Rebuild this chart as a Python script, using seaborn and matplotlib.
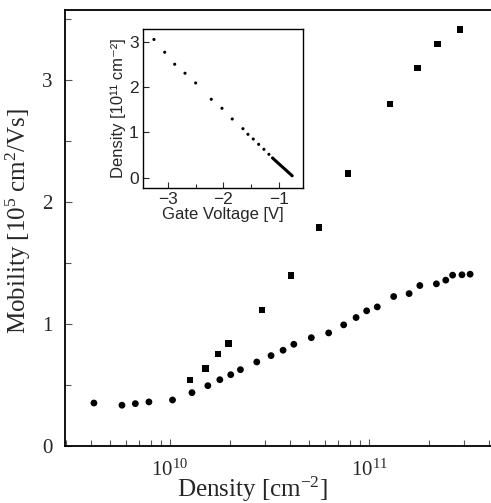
import numpy as np
import pandas as pd
import seaborn as sns
import matplotlib.pyplot as plt
from matplotlib.ticker import FixedLocator, NullFormatter, MultipleLocator

sns.set_style('ticks')
plt.rcParams['mathtext.fontset'] = 'custom'
plt.rcParams['mathtext.rm'] = 'Liberation Serif'
plt.rcParams['mathtext.it'] = 'Liberation Serif:italic'

serif = ['Liberation Serif', 'DejaVu Serif']
sans = ['Liberation Sans', 'DejaVu Sans']

# Main plot: circles
circle_density = [4.15e9, 5.74e9, 6.70e9, 7.84e9, 1.03e10, 1.29e10, 1.55e10, 1.78e10,
                  2.02e10, 2.26e10, 2.73e10, 3.22e10, 3.70e10, 4.19e10, 5.13e10, 6.27e10,
                  7.46e10, 8.61e10, 9.73e10, 1.10e11, 1.33e11, 1.59e11, 1.80e11, 2.18e11,
                  2.43e11, 2.63e11, 2.93e11, 3.22e11]
circle_mobility = [0.352, 0.334, 0.347, 0.361, 0.377, 0.437, 0.494, 0.543,
                   0.584, 0.625, 0.688, 0.740, 0.784, 0.833, 0.887, 0.926,
                   0.992, 1.052, 1.107, 1.139, 1.224, 1.248, 1.314, 1.328,
                   1.358, 1.399, 1.402, 1.407]

# Main plot: squares
square_density = [1.26e10, 1.51e10, 1.74e10, 1.97e10, 2.90e10, 4.05e10,
                  5.62e10, 7.87e10, 1.27e11, 1.75e11, 2.21e11, 2.86e11]
square_mobility = [0.541, 0.634, 0.751, 0.839, 1.115, 1.396,
                   1.789, 2.232, 2.803, 3.096, 3.289, 3.410]

# Inset: density vs gate voltage
gate_voltage = [-3.26, -3.065, -2.884, -2.697, -2.504, -2.221, -2.027, -1.841,
                -1.647, -1.556, -1.460, -1.362, -1.266, -1.176,
                -1.11, -1.09, -1.07, -1.05, -1.03, -1.01, -0.99, -0.97, -0.95,
                -0.93, -0.91, -0.89, -0.87, -0.85, -0.83, -0.81, -0.79, -0.77, -0.755]
inset_density = [3.05, 2.768, 2.503, 2.305, 2.090, 1.731, 1.532, 1.296,
                 1.082, 0.958, 0.854, 0.737, 0.627, 0.517,
                 0.435, 0.413, 0.390, 0.368, 0.346, 0.324, 0.302, 0.280, 0.258,
                 0.237, 0.215, 0.193, 0.171, 0.149, 0.127, 0.105, 0.083, 0.061, 0.044]

circles = pd.DataFrame({'density': circle_density, 'mobility': circle_mobility})
squares = pd.DataFrame({'density': square_density, 'mobility': square_mobility})
inset = pd.DataFrame({'voltage': gate_voltage, 'density': inset_density})

fig = plt.figure(figsize=(4.91, 5.03), dpi=100)
ax = fig.add_axes([0.1324, 0.1133, 0.8676, 0.8668])

sns.scatterplot(data=circles, x='density', y='mobility', ax=ax, marker='o',
                color='black', s=24, edgecolor='none')
sns.scatterplot(data=squares, x='density', y='mobility', ax=ax, marker='s',
                color='black', s=20, edgecolor='none')
ax.set_xscale('log')
ax.set_xlim(2.97e9, 4.1e11)
ax.set_ylim(0, 3.57)

ax.xaxis.set_major_locator(FixedLocator([1e10, 1e11]))
ax.set_xticklabels(['$10^{10}$', '$10^{11}$'], fontsize=15)
ax.xaxis.set_minor_locator(FixedLocator(
    [m * 10**e for e in (9, 10, 11) for m in range(2, 10) if 2.97e9 < m * 10**e < 4.1e11]))
ax.xaxis.set_minor_formatter(NullFormatter())
ax.yaxis.set_major_locator(MultipleLocator(1))
ax.yaxis.set_minor_locator(MultipleLocator(0.5))
for lab in ax.get_yticklabels():
    lab.set_fontfamily(serif)
    lab.set_fontsize(15)

ax.tick_params(which='both', direction='in', width=0.8, color='#555555')
ax.tick_params(which='major', length=5, pad=9)
ax.tick_params(which='minor', length=4)
ax.spines['right'].set_visible(False)
for sp in ('left', 'bottom', 'top'):
    ax.spines[sp].set_linewidth(1.3)
    ax.spines[sp].set_color('black')

ax.set_xlabel('Density [cm$^{-2}$]', fontsize=18, fontfamily=serif)
ax.set_ylabel('Mobility [10$^{5}$ cm$^{2}$/Vs]', fontsize=18, fontfamily=serif)
ax.xaxis.set_label_coords(0.44, -0.099)
ax.yaxis.set_label_coords(-0.11, 0.516)
ax.xaxis.label.set_verticalalignment('center')
ax.yaxis.label.set_verticalalignment('center')

# Inset
axi = fig.add_axes([0.2906, 0.6268, 0.327, 0.3155])
sns.scatterplot(data=inset, x='voltage', y='density', ax=axi, color='black',
                s=5, edgecolor='none')
axi.set_xlim(-3.464, -0.554)
axi.set_ylim(-0.22, 3.28)
axi.xaxis.set_minor_locator(MultipleLocator(0.5))
axi.tick_params(which='both', direction='in', width=0.8, pad=3)
axi.tick_params(which='major', length=4)
axi.tick_params(which='minor', length=3)
axi.set_xticks([-3, -2, -1])
axi.set_xticklabels(['\u22123', '\u22122', '\u22121'], fontfamily=sans, fontsize=12.5)
axi.set_yticks([0, 1, 2, 3])
axi.set_yticklabels(['0', '1', '2', '3'], fontfamily=sans, fontsize=12.5)
for sp in axi.spines.values():
    sp.set_linewidth(1.0)
    sp.set_color('black')
axi.set_xlabel('Gate Voltage [V]', fontsize=12, fontfamily=sans, labelpad=0)
axi.set_ylabel('Density [10\u00b9\u00b9 cm\u207b\u00b2]', fontsize=12, fontfamily=sans, labelpad=2)

fig.savefig('out.png', dpi=100)
